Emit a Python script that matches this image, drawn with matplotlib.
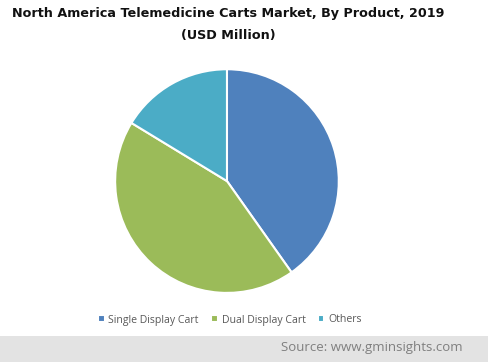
import matplotlib
matplotlib.use('Agg')
import matplotlib.pyplot as plt
from matplotlib.patches import Rectangle

# values (share of the pie, %)
products = ['Single Display Cart', 'Dual Display Cart', 'Others']
shares = [40.2, 43.5, 16.3]
colors = ['#4f81bd', '#9bbb59', '#4bacc6']

title = 'North America Telemedicine Carts Market, By Product, 2019'
subtitle = '(USD Million)'
source = 'Source: www.gminsights.com'

fig = plt.figure(figsize=(4.88, 3.62), dpi=100)

# gray strip at the bottom
fig.patches.append(Rectangle((0, 0), 1, 26 / 362, transform=fig.transFigure,
                             facecolor='#e3e3e3', edgecolor='none', zorder=0))

ax = fig.add_axes([0.2336, 0.1878, 0.463, 0.624])
wedges, _ = ax.pie(shares, colors=colors, startangle=90, counterclock=False,
                   wedgeprops=dict(edgecolor='white', linewidth=1.5))
ax.set_xlim(-1.01, 1.01)
ax.set_ylim(-1.01, 1.01)
ax.set_aspect('equal')

fig.text(228.5 / 488, 1 - 13 / 362, title, ha='center', va='center',
         fontsize=9.15, fontweight='bold', color='#111111', family='DejaVu Sans')
fig.text(228.5 / 488, 1 - 36 / 362, subtitle, ha='center', va='center',
         fontsize=9.15, fontweight='bold', color='#111111', family='DejaVu Sans')

leg = fig.legend(wedges, products, loc='center', bbox_to_anchor=(230 / 488, 1 - 320 / 362),
                 ncol=3, frameon=False, handlelength=0.6, handleheight=0.6,
                 handletextpad=0.35, columnspacing=1.2,
                 prop={'family': 'Open Sans', 'size': 7.6})
for t in leg.get_texts():
    t.set_color('#595959')

fig.text(463 / 488, 1 - 347 / 362, source, ha='right', va='center',
         fontsize=9.5, color='#7f7f7f', family='Open Sans')

fig.savefig('out.png', dpi=100)
